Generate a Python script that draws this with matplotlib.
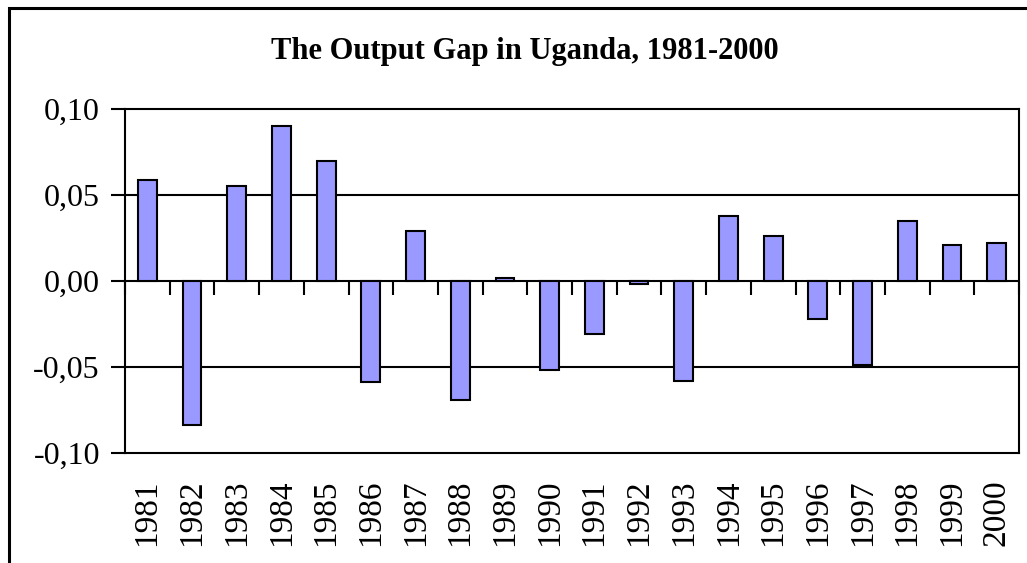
import numpy as np
import matplotlib
matplotlib.use('Agg')
import matplotlib.pyplot as plt
from matplotlib.patches import Rectangle
from matplotlib.ticker import FuncFormatter

plt.rcParams['font.family'] = ['Liberation Serif', 'DejaVu Serif']

# Output gap per year
years = list(range(1981, 2001))
gap = [0.059, -0.084, 0.055, 0.090, 0.070, -0.059, 0.029, -0.069, 0.002, -0.052,
       -0.031, -0.002, -0.058, 0.038, 0.026, -0.022, -0.049, 0.035, 0.021, 0.022]
yticks = [-0.10, -0.05, 0.00, 0.05, 0.10]

fig = plt.figure(figsize=(10.27, 5.63), dpi=100)
ax = fig.add_axes([125 / 1027, 1 - 453 / 563, (1019 - 125) / 1027, (453 - 109) / 563])

x = np.arange(len(years))
ax.bar(x, gap, width=0.42, color='#9999FF', edgecolor='black', linewidth=1.5, zorder=3)

ax.set_xlim(-0.5, len(years) - 0.5)
ax.set_ylim(-0.10, 0.10)
ax.set_yticks(yticks)
ax.yaxis.set_major_formatter(FuncFormatter(lambda v, p: f"{v:.2f}".replace('.', ',').replace('-0,00', '0,00')))
ax.tick_params(axis='y', length=10, width=1.5, pad=8, labelsize=23)
for y in yticks[1:-1]:
    ax.axhline(y, color='black', linewidth=1.5, zorder=1)

# year labels along the bottom, no tick marks there
ax.set_xticks(x)
ax.set_xticklabels([str(y) for y in years], rotation=90, fontsize=24)
ax.tick_params(axis='x', length=0, pad=19)

for s in ax.spines.values():
    s.set_linewidth(1.5)

# tick marks between categories on the zero line
ax2 = ax.twiny()
ax2.set_xlim(ax.get_xlim())
ax2.spines['bottom'].set_position(('data', 0))
for s in ['top', 'left', 'right', 'bottom']:
    ax2.spines[s].set_visible(False)
ax2.xaxis.set_ticks_position('bottom')
ax2.set_xticks(np.arange(len(years) + 1) - 0.5)
ax2.set_xticklabels([])
ax2.tick_params(axis='x', direction='out', length=10, width=1.5)

fig.text(525 / 1027, 1 - 52 / 563, 'The Output Gap in Uganda, 1981-2000',
         ha='center', va='center', fontsize=22, fontweight='bold')

# outer chart border
fig.patches.append(Rectangle((8.5 / 1027, -0.5), 1.5, 0.5 + 1 - 7.5 / 563,
                             transform=fig.transFigure, fill=False,
                             edgecolor='black', linewidth=2.2))

fig.savefig('out.png', dpi=100)
